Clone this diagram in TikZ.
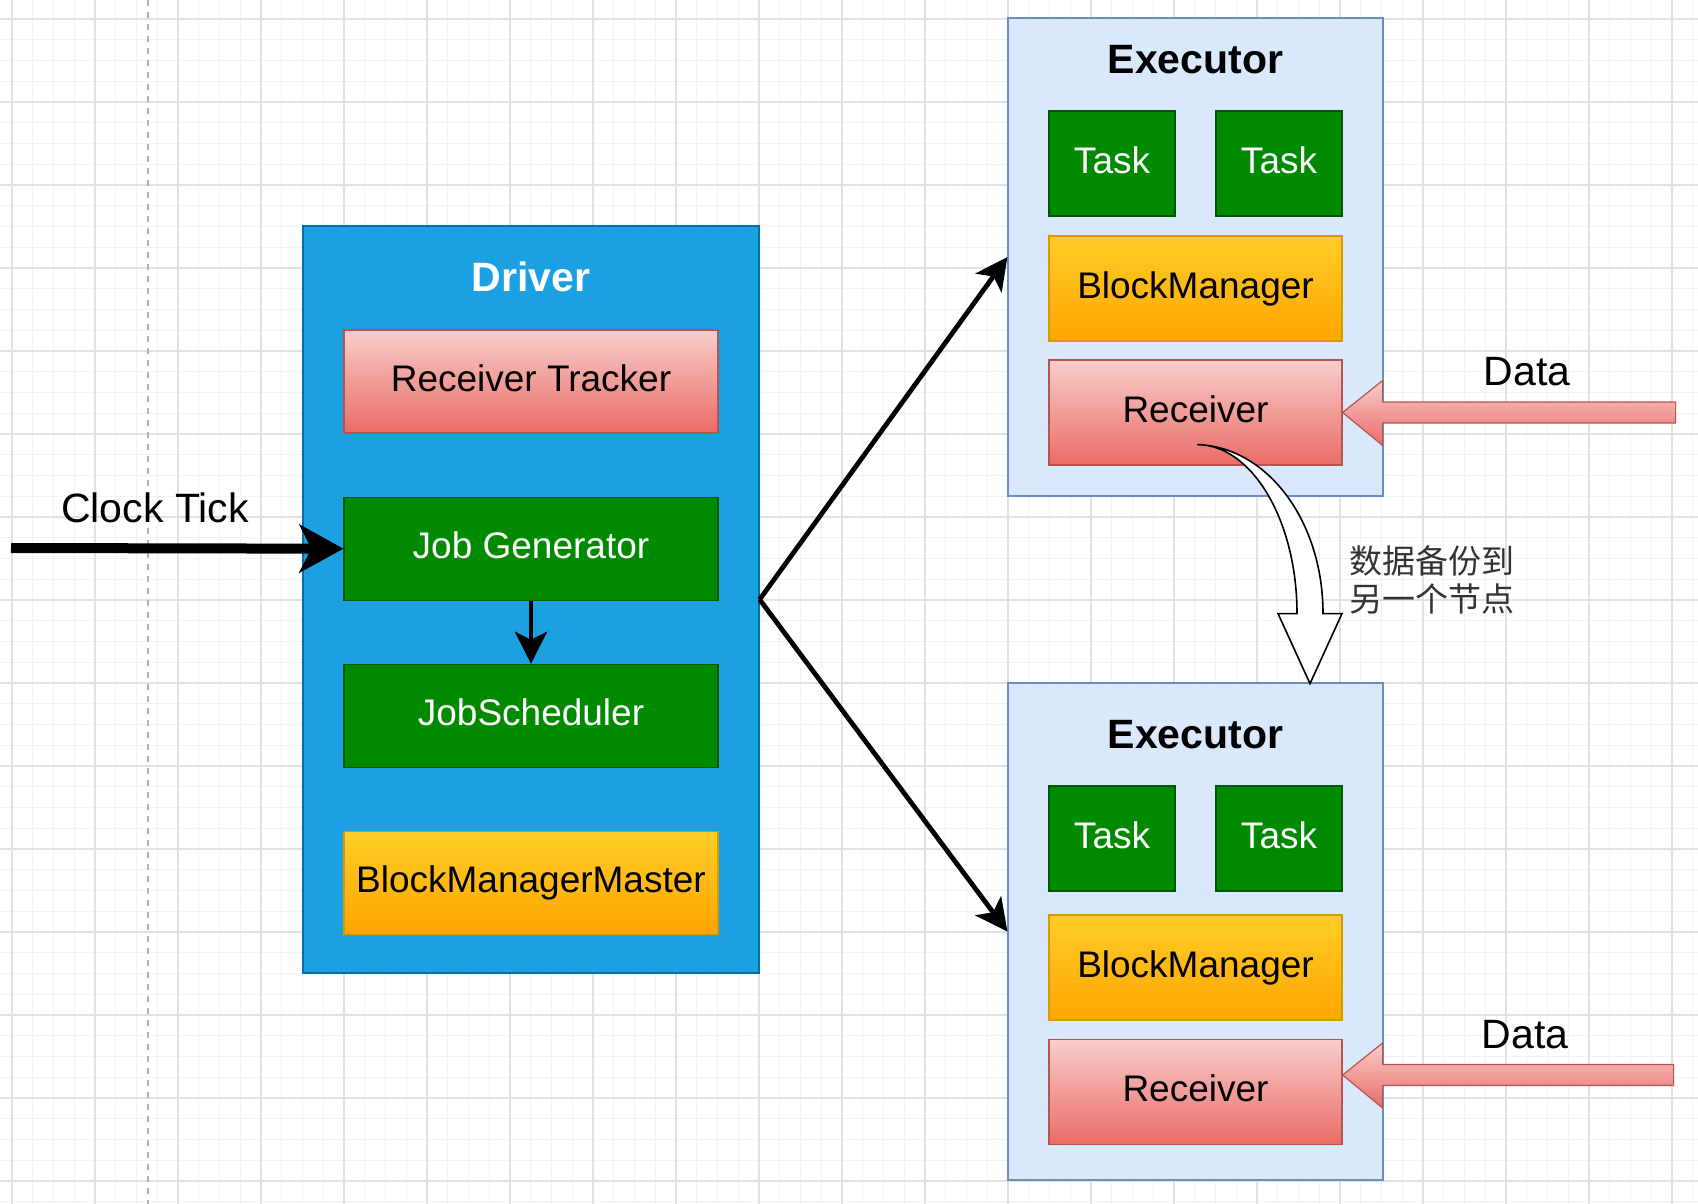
\documentclass[tikz,border=0pt]{standalone}
\usepackage{fontspec}
\setmainfont{Liberation Sans}
\newfontfamily\cjk{Noto Sans CJK SC}
\usetikzlibrary{arrows.meta,positioning,calc}

\definecolor{drvfill}{HTML}{1BA1E2}
\definecolor{drvline}{HTML}{006EAF}
\definecolor{grnfill}{HTML}{008A00}
\definecolor{grnline}{HTML}{005700}
\definecolor{orgtop}{HTML}{FFCD28}
\definecolor{orgbot}{HTML}{FFA500}
\definecolor{orgline}{HTML}{D79B00}
\definecolor{redtop}{HTML}{F8CECC}
\definecolor{redbot}{HTML}{EA6B66}
\definecolor{redline}{HTML}{B85450}
\definecolor{exefill}{HTML}{DAE8FC}
\definecolor{exeline}{HTML}{6C8EBF}
\definecolor{gridmin}{HTML}{F2F2F2}
\definecolor{gridmaj}{HTML}{E2E2E2}
\definecolor{notegray}{HTML}{333333}

\tikzset{
  box/.style={draw,inner sep=0pt,line width=0.6pt,text height=1.0em,text depth=0.04em},
  inbox/.style={box,font=\fontsize{18.5}{22}\selectfont},
  greenbox/.style={inbox,fill=grnfill,draw=grnline,text=white},
  redbox/.style={inbox,top color=redtop,bottom color=redbot,draw=redline},
  orangebox/.style={inbox,top color=orgtop,bottom color=orgbot,draw=orgline},
  title/.style={font=\bfseries\fontsize{20.5}{24}\selectfont},
  lbl/.style={font=\fontsize{20.5}{24}\selectfont},
  note/.style={font=\cjk\fontsize{16.5}{19}\selectfont,text=notegray,align=left},
  minorgrid/.style={draw=gridmin,line width=0.5pt},
  majorgrid/.style={draw=gridmaj,line width=0.6pt},
  guide/.style={draw=black!30,line width=1pt,dash pattern=on 3pt off 3pt},
  datarrow/.style={draw=redline,line width=0.6pt,top color=redtop,bottom color=redbot},
}

\begin{document}
\begin{tikzpicture}[x=0.5pt,y=-0.5pt,>={Stealth[length=16pt,width=16pt,inset=4pt]},
  flow/.style={->,line width=2.4pt},
  tick/.style={-{Stealth[length=22pt,width=24pt,inset=6pt]},line width=5pt}]
  \useasboundingbox (0,0) rectangle (1698,1204);
  \fill[white] (0,0) rectangle (1698,1204);

  % background grid
  \foreach \i in {0,...,81}
    \draw[minorgrid] ({12+20.75*\i},0) -- ({12+20.75*\i},1204);
  \foreach \j in {0,...,57}
    \draw[minorgrid] (0,{19+20.75*\j}) -- (1698,{19+20.75*\j});
  \foreach \i in {0,...,20}
    \draw[majorgrid] ({12+83*\i},0) -- ({12+83*\i},1204);
  \foreach \j in {0,...,14}
    \draw[majorgrid] (0,{19+83*\j}) -- (1698,{19+83*\j});
  \draw[guide] (148,0) -- (148,1204);

  % driver
  \node[box,fill=drvfill,draw=drvline,minimum width=228pt,minimum height=373.5pt] (drv) at (531,599.5) {};
  \node[title,text=white] (drvt) at (531,277) {Driver};
  \node[redbox,minimum width=187pt,minimum height=51.5pt] (rt) at (531,381.5) {Receiver Tracker};
  \node[greenbox,minimum width=187pt,minimum height=51.5pt] (jg) [below=31.5pt of rt] {Job Generator};
  \node[greenbox,minimum width=187pt,minimum height=51.5pt] (js) [below=31.5pt of jg] {JobScheduler};
  \node[orangebox,minimum width=187pt,minimum height=51.5pt] (bmm) [below=31.5pt of js] {BlockManagerMaster};

  % executor 1
  \node[box,fill=exefill,draw=exeline,minimum width=187.5pt,minimum height=239pt] (ex1) at (1195.5,257) {};
  \node[title] (ex1t) at (1195.5,60) {Executor};
  \node[greenbox,minimum width=63pt,minimum height=52.5pt] (tk1a) at (1112,163.5) {Task};
  \node[greenbox,minimum width=63pt,minimum height=52.5pt] (tk1b) at (1279,163.5) {Task};
  \node[orangebox,minimum width=146.5pt,minimum height=52.5pt] (bm1) at (1195.5,288.5) {BlockManager};
  \node[redbox,minimum width=146.5pt,minimum height=52.5pt] (rcv1) at (1195.5,412.5) {Receiver};

  % executor 2
  \node[box,fill=exefill,draw=exeline,minimum width=187.5pt,minimum height=248.5pt] (ex2) at (1195.5,931.5) {};
  \node[title] (ex2t) at (1195.5,735) {Executor};
  \node[greenbox,minimum width=63pt,minimum height=52.5pt] (tk2a) at (1112,838.5) {Task};
  \node[greenbox,minimum width=63pt,minimum height=52.5pt] (tk2b) at (1279,838.5) {Task};
  \node[orangebox,minimum width=146.5pt,minimum height=52.5pt] (bm2) at (1195.5,967.5) {BlockManager};
  \node[redbox,minimum width=146.5pt,minimum height=52.5pt] (rcv2) at (1195.5,1092) {Receiver};

  % arrows
  \coordinate (clk) at (11,548);
  \draw[tick] (clk) -- (jg.west);
  \node[lbl] (clkt) at (155,508) {Clock Tick};
  \draw[flow] (jg) -- (js);
  \draw[flow] (drv.east) -- (ex1.west);
  \draw[flow] (drv.east) -- (ex2.west);

  % data into the receivers
  \begin{scope}[shift={(rcv1.east)}]
    \draw[datarrow] (0,0) -- (40,-32) -- (40,-10.5) -- (333,-10.5) -- (333,10.5) -- (40,10.5) -- (40,33) -- cycle;
  \end{scope}
  \node[lbl] (dat1) at (1527,372) {Data};
  \begin{scope}[shift={([yshift=8.5pt]rcv2.east)}]
    \draw[datarrow] (0,0) -- (40,-32) -- (40,-10.5) -- (331,-10.5) -- (331,10.5) -- (40,10.5) -- (40,33) -- cycle;
  \end{scope}
  \node[lbl] (dat2) at (1525,1035) {Data};

  % backup to the other node
  \coordinate (bk) at ($(rcv1.south)+(1.5,-21)$);
  \begin{scope}[shift={(bk)}]
    \draw[fill=white,line width=0.8pt,line join=miter]
      (0,0) .. controls (70,2) and (126,76) .. (126,169)
      -- (145,169) -- (113,239) -- (81,169) -- (100,169)
      .. controls (100,76) and (55,0) .. (0,0) -- cycle;
  \end{scope}
  \node[note] (bkt) at (1432,580) {数据备份到\\另一个节点};
\end{tikzpicture}
\end{document}
